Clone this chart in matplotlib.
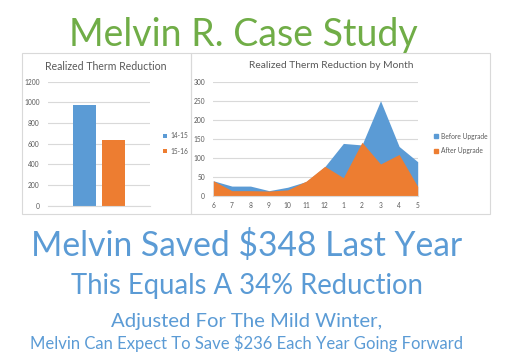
import matplotlib.pyplot as plt
from matplotlib.patches import Rectangle, Patch

plt.rcParams['font.family'] = ['Lato', 'DejaVu Sans']

W, H = 512, 360
BLUE = '#5B9BD5'
ORANGE = '#ED7D31'
GREEN = '#70AD47'
GREY = '#595959'
GRID = '#D9D9D9'

# left chart: yearly totals
seasons = ['14-15', '15-16']
season_totals = [970, 635]

# right chart: monthly values
months = ['6', '7', '8', '9', '10', '11', '12', '1', '2', '3', '4', '5']
before_upgrade = [40, 26, 26, 14, 23, 38, 77, 138, 134, 250, 130, 90]
after_upgrade = [40, 14, 14, 13, 16, 39, 78, 48, 141, 84, 109, 25]


def box(l, t, r, b):
    # pixel box -> figure fraction rect
    return [l / W, 1 - b / H, (r - l) / W, (b - t) / H]


def style(ax, ymax, ystep):
    ax.set_ylim(0, ymax)
    ax.set_yticks(range(0, ymax + 1, ystep))
    ax.yaxis.grid(True, color=GRID, lw=0.8)
    ax.set_axisbelow(True)
    for s in ax.spines.values():
        s.set_visible(False)
    ax.spines['bottom'].set_visible(True)
    ax.spines['bottom'].set_color(GRID)
    ax.tick_params(length=0, labelsize=4.8, colors=GREY, pad=6)


fig = plt.figure(figsize=(W / 100, H / 100), dpi=100)

# panel frames
for l, r in [(22, 191), (191, 490)]:
    fig.patches.append(Rectangle((l / W, 1 - 214 / H), (r - l) / W, 161 / H,
                                 transform=fig.transFigure, fill=False,
                                 ec=GRID, lw=0.8))

# left bar chart
ax1 = fig.add_axes(box(48, 81.7, 150, 205.7))
style(ax1, 1200, 200)
ax1.set_xlim(0, 1)
ax1.set_xticks([])
offsets = [-0.14, 0.14]
for name, val, off, c in zip(seasons, season_totals, offsets, [BLUE, ORANGE]):
    ax1.bar(0.5 + off, val, width=0.23, color=c, label=name)
fig.text(106 / W, 1 - 66 / H, 'Realized Therm Reduction', ha='center',
         va='center', fontsize=7.6, color=GREY)
ax1.legend(loc='center left', bbox_to_anchor=(157 / W, 1 - 143.5 / H),
           bbox_transform=fig.transFigure, frameon=False, fontsize=4.8,
           labelcolor=GREY, handlelength=0.6, handleheight=0.6,
           handletextpad=0.5, labelspacing=1.2)

# right area chart
ax2 = fig.add_axes(box(213.3, 81.7, 417.7, 196))
style(ax2, 300, 50)
x = range(len(months))
ax2.fill_between(x, before_upgrade, color=BLUE, lw=0)
ax2.fill_between(x, after_upgrade, color=ORANGE, lw=0)
ax2.set_xlim(0, len(months) - 1)
ax2.set_xticks(list(x))
ax2.set_xticklabels(months)
ax2.tick_params(axis='x', pad=4)
fig.text(331 / W, 1 - 66 / H, 'Realized Therm Reduction by Month',
         ha='center', va='center', fontsize=7.4, color=GREY)
handles = [Patch(color=BLUE, label='Before Upgrade'),
           Patch(color=ORANGE, label='After Upgrade')]
ax2.legend(handles=handles, loc='center left',
           bbox_to_anchor=(428 / W, 1 - 143.5 / H),
           bbox_transform=fig.transFigure, frameon=False, fontsize=4.8,
           labelcolor=GREY, handlelength=0.6, handleheight=0.6,
           handletextpad=0.5, labelspacing=1.2)

# headline texts
fig.text(243 / W, 1 - 35 / H, 'Melvin R. Case Study', ha='center',
         va='center', fontsize=27, color=GREEN)
lines = [('Melvin Saved $348 Last Year', 246, 24.2),
         ('This Equals A 34% Reduction', 286, 19.8),
         ('Adjusted For The Mild Winter,', 321, 14.6),
         ('Melvin Can Expect To Save $236 Each Year Going Forward', 343, 12)]
for txt, y, fs in lines:
    fig.text(247 / W, 1 - y / H, txt, ha='center', va='center',
             fontsize=fs, color=BLUE)

fig.savefig('out.png', dpi=100, facecolor='white')
